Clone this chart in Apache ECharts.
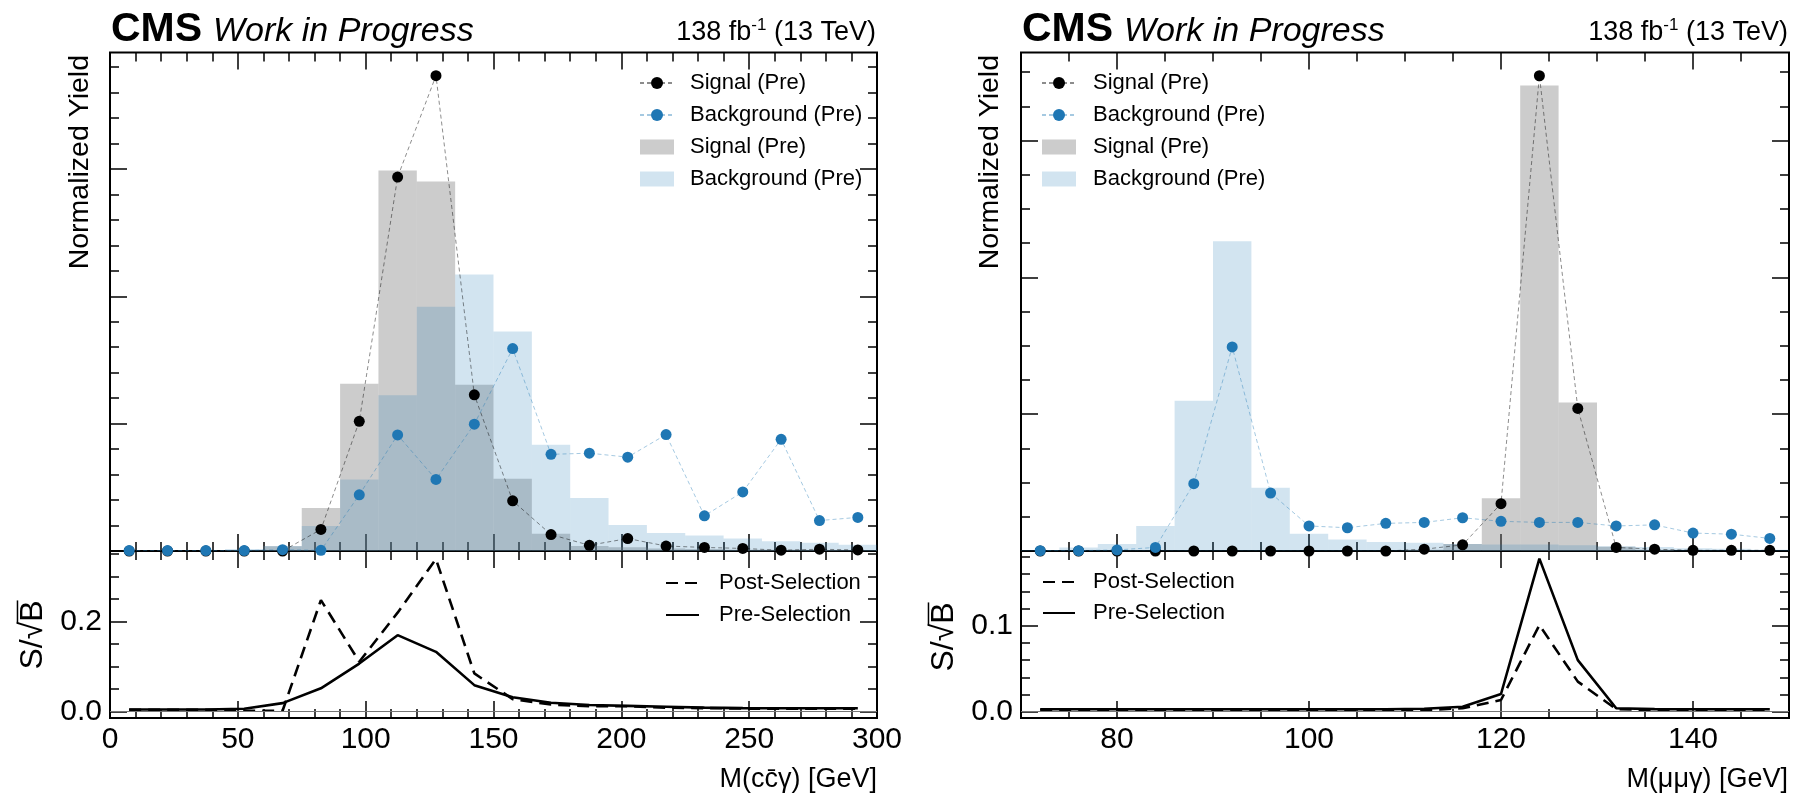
<!DOCTYPE html>
<html><head><meta charset="utf-8">
<script src="https://cdn.jsdelivr.net/npm/echarts@6.0.0/dist/echarts.min.js"></script>
<style>html,body{margin:0;padding:0;background:#fff}#c{width:1805px;height:799px}</style>
</head><body><div id="c"></div>
<script>
const FONT = '"Liberation Sans", Arial, Helvetica, "DejaVu Sans", sans-serif';

// ---------- Left chart: M(cc̄γ) ----------
const L_centers = [7.5, 22.5, 37.5, 52.5, 67.5, 82.5, 97.5, 112.5, 127.5, 142.5, 157.5, 172.5, 187.5, 202.5, 217.5, 232.5, 247.5, 262.5, 277.5, 292.5];
const L_binWidth = 15;
const L_sigPts  = [0, 0, 0, 0, 0, 0.0169, 0.1018, 0.2936, 0.3732, 0.1226, 0.0394, 0.0129, 0.0045, 0.0098, 0.0039, 0.0028, 0.0020, 0.0006, 0.0014, 0.0008];
const L_bkgPts  = [0.0003, 0.0003, 0.0003, 0.0003, 0.0010, 0.0005, 0.0441, 0.0911, 0.0562, 0.0996, 0.1589, 0.0759, 0.0768, 0.0737, 0.0914, 0.0276, 0.0464, 0.0877, 0.0239, 0.0264];
const L_sigHist = [0, 0, 0, 0.0005, 0.0037, 0.0337, 0.1313, 0.2987, 0.2902, 0.1305, 0.0568, 0.0135, 0.0040, 0.0030, 0.0020, 0.0015, 0.0010, 0.0010, 0.0008, 0.0005];
const L_bkgHist = [0, 0, 0, 0.0015, 0.0040, 0.0197, 0.0562, 0.1223, 0.1918, 0.2171, 0.1724, 0.0835, 0.0416, 0.0205, 0.0141, 0.0121, 0.0098, 0.0076, 0.0065, 0.0050];
const L_post    = [0.004, 0.004, 0.004, 0.002, 0.002, 0.248, 0.111, 0.220, 0.339, 0.085, 0.028, 0.016, 0.012, 0.012, 0.009, 0.008, 0.007, 0.0065, 0.0065, 0.0065];
const L_pre     = [0.005, 0.005, 0.005, 0.0065, 0.019, 0.052, 0.107, 0.170, 0.133, 0.059, 0.032, 0.020, 0.015, 0.013, 0.011, 0.009, 0.008, 0.0075, 0.0075, 0.0075];
const L_xTicks = [0, 50, 100, 150, 200, 250, 300];
const L_lowYTicks = [0.0, 0.2];

// ---------- Right chart: M(μμγ) ----------
const R_centers = [72, 76, 80, 84, 88, 92, 96, 100, 104, 108, 112, 116, 120, 124, 128, 132, 136, 140, 144, 148];
const R_binWidth = 4;
const R_sigPts  = [0, 0, 0, 0, 0, 0, 0, 0, 0, 0, 0.0013, 0.0045, 0.0346, 0.3474, 0.1042, 0.0026, 0.0013, 0.0005, 0.0005, 0.0005];
const R_bkgPts  = [0.0002, 0.0002, 0.0008, 0.0026, 0.0492, 0.1492, 0.0424, 0.0183, 0.0170, 0.0202, 0.0209, 0.0243, 0.0217, 0.0209, 0.0209, 0.0183, 0.0191, 0.0131, 0.0123, 0.0092];
const R_sigHist = [0, 0, 0, 0, 0, 0, 0, 0, 0, 0, 0.0010, 0.0052, 0.0385, 0.3403, 0.1086, 0.0031, 0.0010, 0, 0, 0];
const R_bkgHist = [0.0008, 0.0026, 0.0052, 0.0183, 0.1099, 0.2264, 0.0463, 0.0126, 0.0084, 0.0065, 0.0060, 0.0052, 0.0047, 0.0047, 0.0042, 0.0034, 0.0030, 0.0021, 0.0016, 0.0010];
const R_post    = [0.002, 0.002, 0.002, 0.002, 0.002, 0.002, 0.002, 0.002, 0.002, 0.002, 0.002, 0.004, 0.0136, 0.1008, 0.035, 0.003, 0.002, 0.002, 0.002, 0.002];
const R_pre     = [0.0028, 0.0028, 0.0028, 0.0028, 0.0028, 0.0028, 0.0028, 0.0028, 0.0028, 0.0028, 0.0035, 0.0058, 0.0206, 0.178, 0.060, 0.004, 0.003, 0.0028, 0.0028, 0.0028];
const R_xTicks = [80, 100, 120, 140];
const R_lowYTicks = [0.0, 0.1];

const legendText = {
  L_sigPts: 'Signal (Pre)', L_bkgPts: 'Background (Pre)', L_sigHist: 'Signal (Pre)', L_bkgHist: 'Background (Pre)',
  R_sigPts: 'Signal (Pre)', R_bkgPts: 'Background (Pre)', R_sigHist: 'Signal (Pre)', R_bkgHist: 'Background (Pre)',
  L_post: 'Post-Selection', L_pre: 'Pre-Selection', R_post: 'Post-Selection', R_pre: 'Pre-Selection'
};

// ---------- helpers ----------
function steps(a, b, s) { const o = []; for (let k = 0; a + k * s <= b + 1e-9; k++) o.push(+(a + k * s).toFixed(6)); return o; }
function histData(c, w, v) { return c.map((x, i) => [x - w / 2, x + w / 2, v[i]]); }
function pts(c, v) { return c.map((x, i) => [x, v[i]]); }
function histRender(params, api) {
  const p0 = api.coord([api.value(0), api.value(2)]);
  const p1 = api.coord([api.value(1), 0]);
  return { type: 'rect', shape: { x: p0[0], y: p0[1], width: p1[0] - p0[0], height: p1[1] - p0[1] }, style: api.style() };
}

const MAJ = 17, MIN = 9;
const xAxis = [], yAxis = [];
function mkAxis(list, g, pos, min, max, values, len, label) {
  list.push({
    type: 'value', gridIndex: g, position: pos, min: min, max: max, silent: true,
    axisLine: { show: false, onZero: false }, splitLine: { show: false }, minorTick: { show: false }, minorSplitLine: { show: false },
    axisTick: { show: true, inside: true, length: len, customValues: values, lineStyle: { color: '#000', width: 1.5 } },
    axisLabel: label ? Object.assign({ show: true, customValues: values, fontSize: 30, color: '#000', fontFamily: FONT }, label) : { show: false }
  });
}
function gridAxes(g, xr, xMaj, xMin, yr, yMaj, yMin, xLab, yLab) {
  mkAxis(xAxis, g, 'bottom', xr[0], xr[1], xMaj, MAJ, xLab);
  mkAxis(xAxis, g, 'bottom', xr[0], xr[1], xMin, MIN, null);
  mkAxis(xAxis, g, 'top', xr[0], xr[1], xMaj, MAJ, null);
  mkAxis(xAxis, g, 'top', xr[0], xr[1], xMin, MIN, null);
  mkAxis(yAxis, g, 'left', yr[0], yr[1], yMaj, MAJ, yLab);
  mkAxis(yAxis, g, 'left', yr[0], yr[1], yMin, MIN, null);
  mkAxis(yAxis, g, 'right', yr[0], yr[1], yMaj, MAJ, null);
  mkAxis(yAxis, g, 'right', yr[0], yr[1], yMin, MIN, null);
  return 4 * g;
}
const xLabL = { margin: 7, formatter: v => String(v) };
const yLab = { margin: 8, formatter: v => v.toFixed(1) };

const gL  = gridAxes(0, [0, 300], L_xTicks, steps(0, 300, 10), [0, 0.3914], [0, 0.1, 0.2, 0.3], steps(0, 0.38, 0.02), null, null);
const gLl = gridAxes(1, [0, 300], L_xTicks, steps(0, 300, 10), [-0.014, 0.357], L_lowYTicks, steps(0, 0.35, 0.05), xLabL, yLab);
const gR  = gridAxes(2, [70, 150], R_xTicks, steps(70, 150, 5), [0, 0.3644], [0, 0.1, 0.2, 0.3], steps(0, 0.35, 0.025), null, null);
const gRl = gridAxes(3, [70, 150], R_xTicks, steps(70, 150, 5), [-0.0073, 0.1869], R_lowYTicks, steps(0, 0.18, 0.02), xLabL, yLab);

const SIG_FILL = 'rgba(128,128,128,0.4)';
const BKG_FILL = 'rgba(31,119,180,0.2)';
const BLUE = '#1f77b4';

function upperSeries(p, ax, centers, w, sigH, bkgH, sigP, bkgP) {
  return [
    { type: 'custom', name: p + '_sigHist', xAxisIndex: ax, yAxisIndex: ax, renderItem: histRender, data: histData(centers, w, sigH), encode: { x: [0, 1], y: 2 }, itemStyle: { color: SIG_FILL }, z: 2, silent: true },
    { type: 'custom', name: p + '_bkgHist', xAxisIndex: ax, yAxisIndex: ax, renderItem: histRender, data: histData(centers, w, bkgH), encode: { x: [0, 1], y: 2 }, itemStyle: { color: BKG_FILL }, z: 2, silent: true },
    { type: 'line', name: p + '_sigPts', xAxisIndex: ax, yAxisIndex: ax, data: pts(centers, sigP), symbol: 'circle', symbolSize: 11, itemStyle: { color: '#000' }, lineStyle: { color: '#000', width: 1, type: [4, 3], opacity: 0.45 }, z: 3, silent: true },
    { type: 'line', name: p + '_bkgPts', xAxisIndex: ax, yAxisIndex: ax, data: pts(centers, bkgP), symbol: 'circle', symbolSize: 11, itemStyle: { color: BLUE }, lineStyle: { color: BLUE, width: 1, type: [4, 3], opacity: 0.4 }, z: 4, silent: true }
  ];
}
function lowerSeries(p, ax, centers, post, pre) {
  return [
    { type: 'line', name: p + '_post', xAxisIndex: ax, yAxisIndex: ax, data: pts(centers, post), symbol: 'circle', showSymbol: false, itemStyle: { color: '#000' }, lineStyle: { color: '#000', width: 2.6, type: [12, 7] }, z: 3, silent: true },
    { type: 'line', name: p + '_pre', xAxisIndex: ax, yAxisIndex: ax, data: pts(centers, pre), symbol: 'circle', showSymbol: false, itemStyle: { color: '#000' }, lineStyle: { color: '#000', width: 2.6 }, z: 3, silent: true,
      markLine: { silent: true, symbol: 'none', label: { show: false }, lineStyle: { color: '#777', width: 1, type: 'solid' }, data: [{ yAxis: 0 }] } }
  ];
}

const series = [].concat(
  upperSeries('L', gL, L_centers, L_binWidth, L_sigHist, L_bkgHist, L_sigPts, L_bkgPts),
  lowerSeries('L', gLl, L_centers, L_post, L_pre),
  upperSeries('R', gR, R_centers, R_binWidth, R_sigHist, R_bkgHist, R_sigPts, R_bkgPts),
  lowerSeries('R', gRl, R_centers, R_post, R_pre)
);

function upperLegend(p, left, pad) {
  return { show: true, orient: 'vertical', left: left, top: 72, padding: 0, itemWidth: 34, itemHeight: 15, itemGap: 10, selectedMode: false,
    data: [{ name: p + '_sigPts' }, { name: p + '_bkgPts' }, { name: p + '_sigHist', icon: 'rect' }, { name: p + '_bkgHist', icon: 'rect' }],
    formatter: n => legendText[n], textStyle: { fontSize: 22, color: '#000', fontFamily: FONT, padding: [0, 0, 0, pad] } };
}
function lowerLegend(p, left, top, w, pad, gap) {
  return { show: true, orient: 'vertical', left: left, top: top, padding: 0, itemWidth: w, itemHeight: 14, itemGap: gap, selectedMode: false,
    itemStyle: { opacity: 0 },
    data: [{ name: p + '_post' }, { name: p + '_pre' }],
    formatter: n => legendText[n], textStyle: { fontSize: 22, color: '#000', fontFamily: FONT, padding: [0, 0, 0, pad] } };
}

// ---------- titles ----------
function panelTitles(x0, x1) {
  return [
    { type: 'text', x: x0, y: 30, silent: true, style: { text: 'CMS', font: 'bold 41px ' + FONT, fill: '#000', align: 'left', verticalAlign: 'middle' } },
    { type: 'text', x: x0 + 102, y: 32, silent: true, style: { text: 'Work in Progress', font: 'italic 34px ' + FONT, fill: '#000', align: 'left', verticalAlign: 'middle' } },
    { type: 'text', x: x1, y: 33, silent: true, style: { text: '{a|138 fb}{s|-1}{a| (13 TeV)}', align: 'right', verticalAlign: 'middle', fill: '#000',
        rich: { a: { fontSize: 27, fontFamily: FONT, lineHeight: 32, fill: '#000' }, s: { fontSize: 17, fontFamily: FONT, lineHeight: 18, verticalAlign: 'top', fill: '#000' } } } }
  ];
}
function yTitle(x, yTop, text) {
  return { type: 'text', x: x, y: yTop, rotation: Math.PI / 2, silent: true, style: { text: text, font: '28.5px ' + FONT, fill: '#000', align: 'right', verticalAlign: 'middle' } };
}
function sqrtLabel(cx, cy) {
  const f = 32;
  const ctx = document.createElement('canvas').getContext('2d');
  ctx.font = f + 'px ' + FONT;
  const wAll = ctx.measureText('S/√B').width;
  const wPre = ctx.measureText('S/√').width;
  const yl = -0.36 * f - 4;
  return { type: 'group', x: cx, y: cy, rotation: Math.PI / 2, silent: true, children: [
    { type: 'text', style: { text: 'S/√B', x: 0, y: 0, font: f + 'px ' + FONT, fill: '#000', align: 'center', verticalAlign: 'middle' } },
    { type: 'line', shape: { x1: -wAll / 2 + wPre - 2, y1: yl, x2: wAll / 2, y2: yl }, style: { stroke: '#000', lineWidth: 1.5 } }
  ] };
}
function xTitle(xRight, y, text) {
  return { type: 'text', x: xRight, y: y, silent: true, style: { text: text, font: '27px ' + FONT, fill: '#000', align: 'right', verticalAlign: 'middle' } };
}

const graphic = [].concat(
  panelTitles(111, 876), panelTitles(1022, 1788),
  [yTitle(80, 55, 'Normalized Yield'), yTitle(990, 55, 'Normalized Yield'),
   sqrtLabel(33, 635), sqrtLabel(944, 637),
   xTitle(877, 780, 'M(cc̄γ) [GeV]'), xTitle(1788, 780, 'M(μμγ) [GeV]')]
);

const grid = [
  { left: 110, top: 52.5, width: 767, height: 498.5 },
  { left: 110, top: 551, width: 767, height: 167 },
  { left: 1021, top: 52.5, width: 768, height: 498.5 },
  { left: 1021, top: 551, width: 768, height: 167 }
].map(g => Object.assign({ show: true, borderColor: '#000', borderWidth: 2, backgroundColor: 'transparent', containLabel: false }, g));

const chart = echarts.init(document.getElementById('c'), null, { renderer: 'canvas', width: 1805, height: 799 });
chart.setOption({
  animation: false,
  backgroundColor: '#fff',
  textStyle: { fontFamily: FONT },
  grid: grid, xAxis: xAxis, yAxis: yAxis, series: series,
  legend: [upperLegend('L', 639, 11), upperLegend('R', 1041, 12), lowerLegend('L', 665, 572, 33, 15, 10), lowerLegend('R', 1042, 571, 32, 13, 9)],
  graphic: graphic
});
</script></body></html>
